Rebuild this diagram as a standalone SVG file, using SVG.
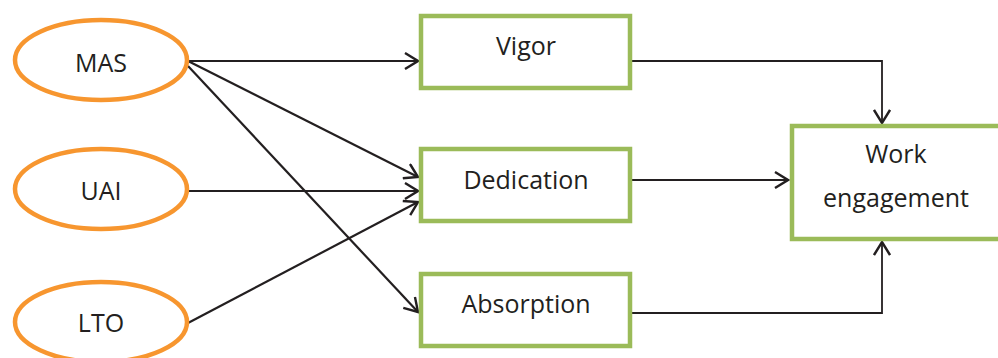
<svg xmlns="http://www.w3.org/2000/svg" width="998" height="358" viewBox="0 0 998 358">
<style>
.ell{fill:#fff;stroke:#F7962F;stroke-width:4.5}
.box{fill:#fff;stroke:#9BBB59;stroke-width:4.5}
.t{font-family:"Open Sans",sans-serif;font-size:25px;fill:#231F20;text-anchor:middle}
.c{fill:none;stroke:#231F20;stroke-width:2.2}
.e{fill:none;stroke:#231F20;stroke-width:1.8}
</style>
<defs>
<marker id="ah" viewBox="-14 -9 16 18" refX="0" refY="0" markerWidth="16" markerHeight="18" markerUnits="userSpaceOnUse" orient="auto">
<path d="M-13,-8 L0,0 L-13,8" fill="none" stroke="#231F20" stroke-width="2.4"/>
</marker>
</defs>
<g id="connectors">
<line class="c" x1="188" y1="61" x2="418" y2="61" marker-end="url(#ah)"/>
<line class="c" x1="188" y1="61" x2="418" y2="177" marker-end="url(#ah)"/>
<line class="c" x1="188" y1="66" x2="418" y2="312" marker-end="url(#ah)"/>
<line class="c" x1="188" y1="191" x2="418" y2="191" marker-end="url(#ah)"/>
<line class="c" x1="188" y1="323" x2="418" y2="202" marker-end="url(#ah)"/>
<polyline class="e" points="632,61 882,61 882,123" marker-end="url(#ah)"/>
<line class="c" x1="632" y1="180" x2="788" y2="180" marker-end="url(#ah)"/>
<polyline class="e" points="632,313 882,313 882,242" marker-end="url(#ah)"/>
</g>
<g id="MAS"><ellipse class="ell" cx="101" cy="60" rx="86" ry="40"/><text class="t" x="101" y="72">MAS</text></g>
<g id="UAI"><ellipse class="ell" cx="101" cy="189" rx="86" ry="40"/><text class="t" x="101" y="200">UAI</text></g>
<g id="LTO"><ellipse class="ell" cx="101" cy="322" rx="86" ry="40"/><text class="t" x="101" y="332">LTO</text></g>
<g id="Vigor"><rect class="box" x="421" y="16" width="209" height="72"/><text class="t" x="526" y="55">Vigor</text></g>
<g id="Dedication"><rect class="box" x="421" y="149" width="209" height="72"/><text class="t" x="526" y="189">Dedication</text></g>
<g id="Absorption"><rect class="box" x="421" y="274" width="209" height="72"/><text class="t" x="526" y="313">Absorption</text></g>
<g id="WorkEngagement"><rect class="box" x="792" y="126" width="220" height="113"/><text class="t" x="896" y="163">Work</text><text class="t" x="896" y="207">engagement</text></g>
</svg>
